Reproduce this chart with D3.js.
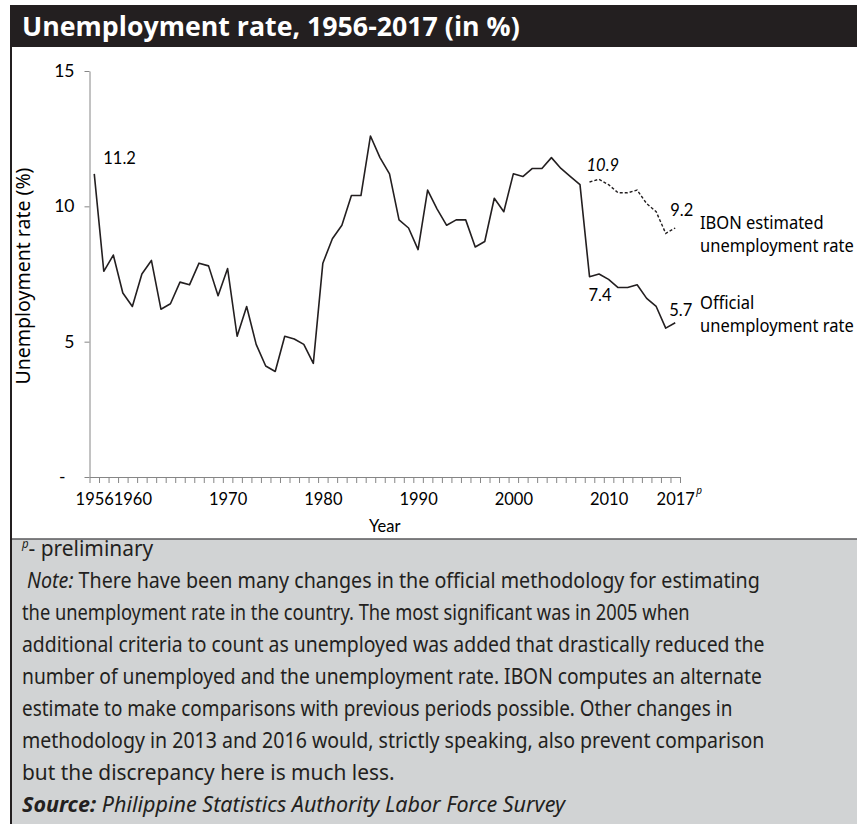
<!DOCTYPE html>
<html>
<head>
<meta charset="utf-8">
<script src="https://cdn.jsdelivr.net/npm/d3@7"></script>
<style>
  body { margin: 0; background: #fff; }
  svg { display: block; }
</style>
</head>
<body>
<div id="CHART"></div>
<script>
// ---- data ----
var years = [1956, 1957, 1958, 1959, 1960, 1961, 1962, 1963, 1964, 1965,
             1966, 1967, 1968, 1969, 1970, 1971, 1972, 1973, 1974, 1975,
             1976, 1977, 1978, 1979, 1980, 1981, 1982, 1983, 1984, 1985,
             1986, 1987, 1988, 1989, 1990, 1991, 1992, 1993, 1994, 1995,
             1996, 1997, 1998, 1999, 2000, 2001, 2002, 2003, 2004, 2005,
             2006, 2007, 2008, 2009, 2010, 2011, 2012, 2013, 2014, 2015,
             2016, 2017];

var official = [11.2, 7.6, 8.2, 6.8, 6.3, 7.5, 8.0, 6.2, 6.4, 7.2,
                7.1, 7.9, 7.8, 6.7, 7.7, 5.2, 6.3, 4.9, 4.1, 3.9,
                5.2, 5.1, 4.9, 4.2, 7.9, 8.8, 9.3, 10.4, 10.4, 12.6,
                11.8, 11.2, 9.5, 9.2, 8.4, 10.6, 9.9, 9.3, 9.5, 9.5,
                8.5, 8.7, 10.3, 9.8, 11.2, 11.1, 11.4, 11.4, 11.8, 11.4,
                11.1, 10.8, 7.4, 7.5, 7.3, 7.0, 7.0, 7.1, 6.6, 6.3,
                5.5, 5.7];

// IBON alternate estimate, 2008-2017 only
var ibonYears = [2008, 2009, 2010, 2011, 2012, 2013, 2014, 2015, 2016, 2017];
var ibon = [10.9, 11.0, 10.8, 10.5, 10.5, 10.6, 10.1, 9.8, 9.0, 9.2];

var yTicks = [0, 5, 10, 15];
var xLabels = [1956, 1960, 1970, 1980, 1990, 2000, 2010, 2017];

var noteBody = [
    "the unemployment rate in the country. The most significant was in 2005 when",
    "additional criteria to count as unemployed was added that drastically reduced the",
    "number of unemployed and the unemployment rate. IBON computes an alternate",
    "estimate to make comparisons with previous periods possible. Other changes in",
    "methodology in 2013 and 2016 would, strictly speaking, also prevent comparison",
    "but the discrepancy here is much less."
];

// ---- layout ----
var WIDTH = 857, HEIGHT = 824;
var INK = "#231f20", AXIS = "#868686";
var CALIBRI = "Lato, 'Noto Sans', sans-serif";
var MYRIAD = "'Noto Sans', 'Open Sans', sans-serif";
var PANEL_BOTTOM = 539;

var svg = d3.select("#CHART")
    .append("svg")
    .attr("width", WIDTH)
    .attr("height", HEIGHT);

// squeeze a text element horizontally so it is `target` px wide
function fitWidth(sel, target, x0) {
    var w = sel.node().getBBox().width;
    var k = target / w;
    sel.attr("transform", "translate(" + x0 + ",0) scale(" + k + ",1) translate(" + (-x0) + ",0)");
}

// title bar
svg.append("rect")
    .attr("x", 10).attr("y", 5)
    .attr("width", WIDTH - 10).attr("height", 42)
    .attr("fill", INK);

var title = svg.append("text")
    .attr("x", 22).attr("y", 36)
    .attr("fill", "#fff")
    .style("font-family", "'Open Sans', sans-serif")
    .style("font-weight", "bold")
    .style("font-size", "26px")
    .text("Unemployment rate, 1956-2017 (in %)");
fitWidth(title, 498, 22);

// notes panel
svg.append("rect")
    .attr("x", 11).attr("y", PANEL_BOTTOM)
    .attr("width", WIDTH - 11).attr("height", HEIGHT - PANEL_BOTTOM)
    .attr("fill", "#d1d3d4");
svg.append("line")
    .attr("x1", 11).attr("x2", WIDTH)
    .attr("y1", PANEL_BOTTOM).attr("y2", PANEL_BOTTOM)
    .attr("stroke", "#58595b").attr("stroke-width", 1.5);
svg.append("line")
    .attr("x1", 11).attr("x2", 11)
    .attr("y1", 47).attr("y2", HEIGHT)
    .attr("stroke", INK).attr("stroke-width", 2);

// ---- scales ----
var x = d3.scaleLinear()
    .domain([years[0] - 0.5, years[years.length - 1] + 0.5])
    .range([89.5, 680]);

var y = d3.scaleLinear()
    .domain([0, 15])
    .range([477, 71]);

// y axis
var yAxis = svg.append("g")
    .attr("transform", "translate(89.5,0)")
    .call(d3.axisLeft(y)
        .tickValues(yTicks)
        .tickSize(5)
        .tickSizeOuter(0)
        .tickPadding(10)
        .tickFormat(function(d) { return d === 0 ? "-" : d; }));
yAxis.selectAll("path, line").attr("stroke", AXIS);
yAxis.selectAll("text")
    .attr("fill", "#000")
    .style("font-family", CALIBRI)
    .style("font-size", "17.5px")
    .attr("dx", function(d) { return d === 0 ? -9 : 0; });

// x axis: small ticks between the years
var bounds = years.map(function(d) { return d - 0.5; }).concat([years[years.length - 1] + 0.5]);
var xAxis = svg.append("g")
    .attr("transform", "translate(0,477)")
    .call(d3.axisBottom(x).tickValues(bounds).tickSize(6).tickSizeOuter(0).tickFormat(""));
xAxis.selectAll("path, line").attr("stroke", AXIS);

var xLab = svg.append("g")
    .attr("transform", "translate(0,477)")
    .call(d3.axisBottom(x).tickValues(xLabels).tickSize(0).tickPadding(16).tickFormat(d3.format("d")));
xLab.select(".domain").remove();
xLab.selectAll("text")
    .attr("fill", "#000")
    .style("font-family", CALIBRI)
    .style("font-size", "16.5px");

// preliminary mark on the last year
svg.append("text")
    .attr("x", x(2017) + 21).attr("y", 494)
    .style("font-family", MYRIAD)
    .style("font-style", "italic")
    .style("font-size", "10px")
    .text("p");

// axis titles
svg.append("text")
    .attr("x", (x.range()[0] + x.range()[1]) / 2).attr("y", 532)
    .attr("text-anchor", "middle")
    .style("font-family", CALIBRI)
    .style("font-size", "16.5px")
    .text("Year");

var yTitle = svg.append("text")
    .attr("transform", "translate(30," + ((y(0) + y(15)) / 2 + 2) + ") rotate(-90)")
    .attr("text-anchor", "middle")
    .style("font-family", MYRIAD)
    .style("font-size", "19.5px")
    .text("Unemployment rate (%)");

// ---- lines ----
var offData = years.map(function(d, i) { return { year: d, v: official[i] }; });
var ibonData = ibonYears.map(function(d, i) { return { year: d, v: ibon[i] }; });

var line = d3.line()
    .x(function(d) { return x(d.year); })
    .y(function(d) { return y(d.v); });

svg.append("path")
    .datum(offData)
    .attr("d", line)
    .attr("fill", "none")
    .attr("stroke", INK)
    .attr("stroke-width", 1.6)
    .attr("stroke-linejoin", "round");

svg.append("path")
    .datum(ibonData)
    .attr("d", line)
    .attr("fill", "none")
    .attr("stroke", INK)
    .attr("stroke-width", 1.4)
    .attr("stroke-dasharray", "3,2");

// value labels
var fmt = d3.format(".1f");
function valueLabel(d, dx, dy, italic) {
    svg.append("text")
        .attr("x", x(d.year) + dx).attr("y", y(d.v) + dy)
        .style("font-family", CALIBRI)
        .style("font-size", "16.5px")
        .style("font-style", italic ? "italic" : "normal")
        .text(fmt(d.v));
}
valueLabel(offData[0], 9, -10, false);
valueLabel(offData[years.indexOf(2008)], -1, 24, false);
valueLabel(offData[offData.length - 1], -6, -7, false);
valueLabel(ibonData[0], -3, -11, true);
valueLabel(ibonData[ibonData.length - 1], -5, -12, false);

// series names
var names = svg.append("g")
    .style("font-family", MYRIAD)
    .style("font-size", "17.5px");
function seriesName(d, dy, lines) {
    var t = names.append("text")
        .attr("x", 700).attr("y", y(d.v) + dy);
    t.selectAll("tspan")
        .data(lines)
        .enter().append("tspan")
        .attr("x", 700)
        .attr("dy", function(_, i) { return i ? 23.5 : 0; })
        .text(function(s) { return s; });
}
seriesName(ibonData[ibonData.length - 1], 1, ["IBON estimated", "unemployment rate"]);
seriesName(offData[offData.length - 1], -14, ["Official", "unemployment rate"]);
fitWidth(names, 154, 700);

// ---- notes ----
var NOTE_X = 22, NOTE_Y = 556, NOTE_STEP = 32;
// right edge of each note line in the printed figure
var noteEnds = [155, 760, 690, 765, 762, 733, 765, 395, 567];

var notes = svg.append("g")
    .style("font-family", MYRIAD)
    .style("font-size", "22px")
    .attr("fill", "#231f20");

var rows = [];
var n0 = notes.append("text").attr("x", NOTE_X).attr("y", NOTE_Y);
n0.append("tspan").attr("font-style", "italic").attr("font-size", "12px").attr("dy", -8).text("p");
n0.append("tspan").attr("dy", 8).text("- preliminary");
rows.push(n0);

var n1 = notes.append("text").attr("x", NOTE_X).attr("y", NOTE_Y + NOTE_STEP).attr("xml:space", "preserve");
n1.append("tspan").attr("font-style", "italic").text(" Note:");
n1.append("tspan").text(" There have been many changes in the official methodology for estimating");
rows.push(n1);

noteBody.forEach(function(s, i) {
    rows.push(notes.append("text")
        .attr("x", NOTE_X)
        .attr("y", NOTE_Y + NOTE_STEP * (i + 2))
        .text(s));
});

var n8 = notes.append("text").attr("x", NOTE_X).attr("y", NOTE_Y + NOTE_STEP * 8).attr("font-style", "italic");
n8.append("tspan").attr("font-weight", "bold").text("Source:");
n8.append("tspan").text(" Philippine Statistics Authority Labor Force Survey");
rows.push(n8);

rows.forEach(function(r, i) { fitWidth(r, noteEnds[i] - NOTE_X, NOTE_X); });
</script>
</body>
</html>
